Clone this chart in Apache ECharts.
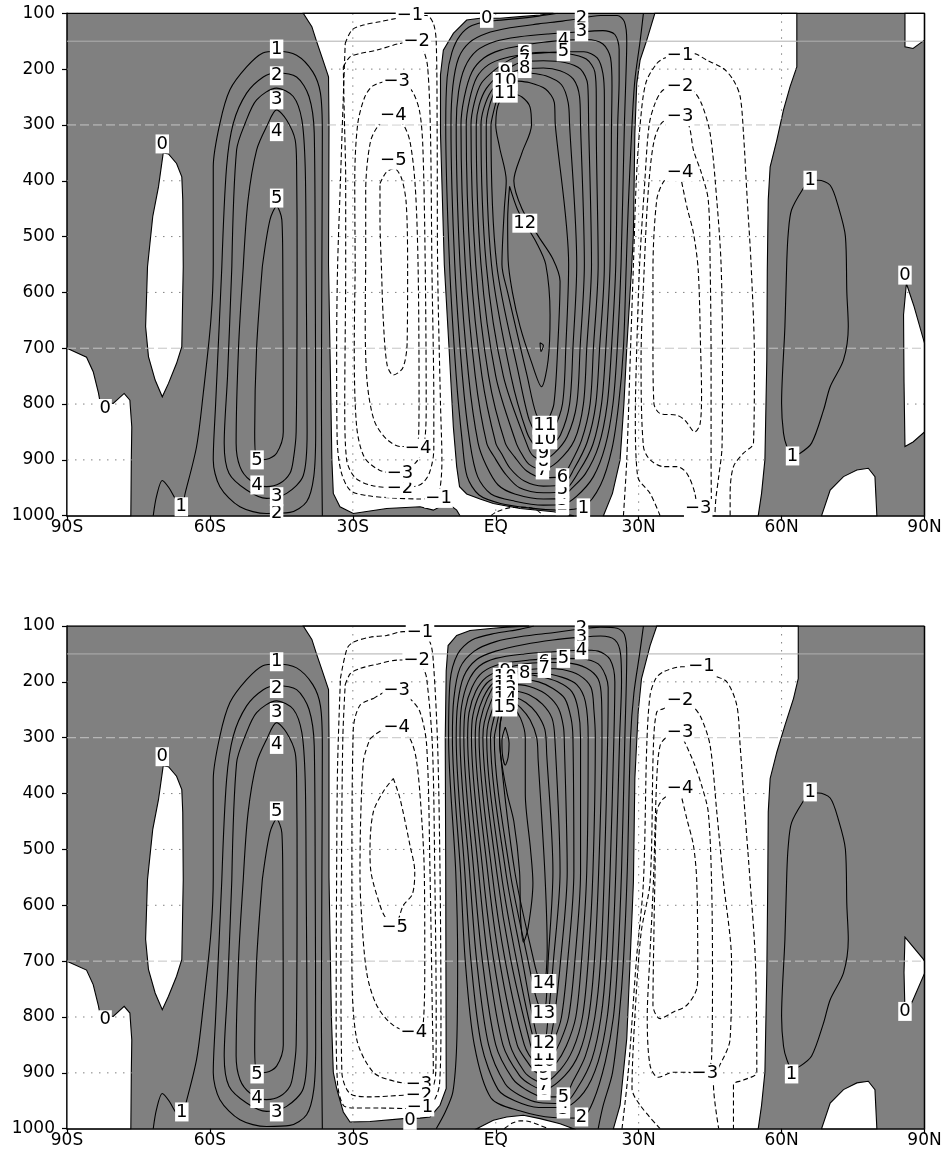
<!DOCTYPE html>
<html>
<head>
<meta charset="utf-8">
<script src="https://cdn.jsdelivr.net/npm/echarts@6/dist/echarts.min.js"></script>
<style>
  html, body { margin: 0; padding: 0; background: #fff; }
  #main { width: 947px; height: 1161px; }
</style>
</head>
<body>
<div id="main"></div>
<script>
// axes
const LAT_TICKS = [-90, -60, -30, 0, 30, 60, 90];
const LAT_NAMES = ['90S', '60S', '30S', 'EQ', '30N', '60N', '90N'];
const DOTTED_LEVELS = [200, 400, 500, 600, 800, 900];
const DASHED_LEVELS = [300, 700];
const SOLID_LEVELS = [150];

// ---------- shapes shared by both panels (they look the same in both) ----------
// white (negative) areas, [lat, hPa]
const shCornerWhite = [[-90,700],[-85.9,716],[-84.5,742],[-83.4,780],[-83.1,794],[-80.3,799],[-78,781],[-76.8,793],[-76.4,841],[-76.5,900],[-76.6,1000],[-90,1000]];
const shIslandWhite = [[-69.8,350],[-68.7,352],[-67,369],[-65.9,393],[-65.7,434],[-65.6,554],[-65.9,697],[-67,727],[-68.7,763],[-70,787],[-71.5,757],[-72.9,715],[-73.5,661],[-73.1,554],[-72,464],[-70.8,411]];
const nhBottomWhite = [[68.4,1000],[70.2,954],[73,930],[75.8,918],[78.2,915],[79.6,930],[80,1000]];

// southern positive cell, contours 1..5
const sh1 = [[-71.9,1000],[-71.2,965],[-70,937],[-68.6,950],[-67.3,969],[-65.9,982],[-65.2,960],[-62.8,876],[-61.4,781],[-59.8,650],[-59.3,550],[-59.3,375],[-57.9,297],[-55.8,237],[-52.3,196],[-48.9,171],[-46,168],[-41.8,175],[-38.4,205],[-36.8,243],[-36.4,315],[-36.5,554],[-36.6,800],[-36.4,1000]];
const sh2 = [[-57.5,554],[-56.5,375],[-55.1,297],[-52.3,243],[-48.8,214],[-46,207],[-41.8,214],[-39.2,249],[-38.1,315],[-37.9,554],[-37.8,850],[-38.2,930],[-39.7,975],[-43.2,994],[-48.1,996],[-53.7,984],[-57.9,948],[-59.3,900],[-58.8,800],[-58,650],[-57.5,554]];
const sh3 = [[-55.4,554],[-54.4,345],[-52.6,297],[-50.2,255],[-46,234],[-42.5,249],[-40.7,291],[-40,375],[-39.8,554],[-39.6,850],[-40.4,928],[-43.9,960],[-48.1,969],[-52.3,954],[-56,924],[-57,870],[-56.3,750],[-55.4,554]];
const sh4 = [[-53,554],[-52,435],[-50.2,345],[-48.1,303],[-46,273],[-43.9,291],[-42.1,327],[-41.8,375],[-41.7,554],[-41.9,850],[-42.5,900],[-43.2,924],[-45.3,942],[-48.1,948],[-51.6,936],[-53.7,912],[-54.5,870],[-54,700],[-53,554]];
const sh5 = [[-49,554],[-47.4,470],[-46,446],[-44.9,470],[-44.7,554],[-44.6,850],[-46,888],[-48.1,899],[-50.1,900],[-50.6,850],[-50.2,700],[-49,554]];
const nhPos1 = [[66,399],[67.7,399],[70.2,408],[71.9,446],[73.4,500],[73.7,600],[74,661],[73,721],[70.2,769],[68.8,811],[66.3,870],[63.9,888],[62.2,893],[61.1,876],[60.4,852],[60,799],[60.7,661],[61.1,542],[61.4,494],[62.1,452],[64.6,413],[66,399]];

// ---------- panel 1 ----------
const p1SubWhite = [[-40.4,100],[12.1,100],[9.3,103],[5.1,106],[0.9,109],[-3.3,109],[-6.1,112],[-8.9,136],[-11,166],[-11.6,210],[-11.6,315],[-10.8,550],[-9.8,700],[-8.9,841],[-8.2,912],[-7.6,948],[-6.1,961],[-3.3,970],[-0.5,978],[5.1,987],[12.1,993],[16.4,1000],[-7.5,1000],[-8.2,990],[-9.6,981],[-11.7,984],[-13.1,990],[-15.9,984],[-22.9,987],[-29.9,996],[-32.7,984],[-34.1,960],[-34.4,900],[-34.8,700],[-35.1,550],[-35,300],[-35.1,214],[-36.5,178],[-37.7,148],[-38.6,124]];
const p1NhWhite = [[33.4,100],[63.2,100],[63.2,196],[61.8,231],[60.4,273],[59,327],[57.6,375],[57.2,434],[57,560],[56.9,721],[56.5,900],[55.8,960],[55.1,1000],[22.6,1000],[24.5,960],[26.1,900],[26.9,800],[27.5,700],[28.2,600],[28.5,560],[28.9,494],[29.2,315],[29.6,226],[30.3,184],[31.7,148]];
const p1TopRightWhite = [[85.9,100],[85.9,160],[87.6,163],[90,148],[90,100]];
const p1PoleWhite = [[86.2,584],[87.8,625],[90,691],[90,850],[87.6,868],[85.9,876],[85.7,760],[85.6,640]];

const p1t1 = [[31,100],[30.3,150],[29.2,220],[28.6,300],[27.8,450],[27.4,550],[26.8,700],[25.8,800],[24.4,880],[22,945],[18.4,984],[13,990],[7,986],[1,978],[-3.5,963],[-6,930],[-7,870],[-8.3,750],[-9.7,550],[-10.5,300],[-10.2,215],[-9.2,170],[-7.5,140],[-5,122],[-1,114],[4,110],[9,105],[13,100]];
const p1t2 = [[18,109],[22,104],[25.5,104],[27,115],[27.5,150],[27.3,220],[27,300],[26.3,550],[25.5,700],[24.6,800],[23,875],[20.5,930],[17,965],[14,980],[10,981],[4,974],[-1,961],[-3.8,930],[-5.4,870],[-7,750],[-8.6,550],[-9.4,300],[-9,230],[-7.8,180],[-5.5,152],[-2,136],[3,126],[9,119],[14,114],[18,109]];
const p1t3 = [[18,133],[22.5,131],[25,138],[25.9,165],[25.9,220],[25.6,300],[25.2,550],[24.3,700],[23.4,800],[21.6,875],[18.8,925],[15.5,955],[14,969],[10,970],[4,961],[0.5,945],[-2,910],[-3.7,870],[-5.7,750],[-7.5,550],[-8.3,300],[-7.8,240],[-6.5,197],[-4,167],[0,150],[5,142],[11,137],[18,133]];
const p1t4 = [[14.2,148],[19,147],[22.5,155],[24.1,180],[24.4,230],[24.3,300],[24,550],[23.1,700],[22.2,800],[20.4,872],[17.5,920],[14,957],[10,959],[5,950],[2,925],[-0.3,895],[-1.9,870],[-4.3,750],[-6.4,550],[-7.3,300],[-6.6,250],[-5,205],[-2.5,180],[1,166],[6,157],[10,152],[14.2,148]];
const p1t5 = [[14.2,169],[18.5,169],[21.3,180],[22.5,208],[22.8,250],[22.8,300],[22.8,550],[21.8,700],[21,800],[19.2,868],[16.5,915],[14,945],[10,947],[6,938],[3,915],[1.3,890],[0,870],[-2.9,750],[-5.3,550],[-6.2,300],[-5.5,255],[-4,215],[-1.5,192],[2,180],[7,173],[14.2,169]];
const p1t6 = [[6.1,172],[10,170],[15,172],[19,182],[20.8,205],[21.1,250],[21.1,300],[21.5,550],[20.5,700],[19.8,800],[18,865],[15.5,910],[14,930],[10,932],[6.5,920],[4,895],[2,870],[-1.5,750],[-4.2,550],[-5.2,300],[-4.5,260],[-3,225],[0,200],[3,183],[6.1,172]];
const p1t7 = [[6.1,186],[10,185],[14.5,188],[17.8,200],[19.3,228],[19.5,300],[20.1,550],[19.1,700],[18.4,800],[16.5,865],[13,903],[9.8,917],[7,908],[5.5,890],[4.3,870],[0,750],[-3.1,550],[-4.1,300],[-3.5,265],[-2,235],[1,208],[4,192],[6.1,186]];
const p1t8 = [[6.1,199],[10,198],[13.5,203],[16.3,218],[17.6,250],[17.8,300],[18.6,550],[17.7,700],[17,800],[15,858],[12.3,888],[10,899],[8,894],[6.8,878],[1.6,750],[-2,550],[-3.1,300],[-2.5,270],[-1,240],[1.5,217],[4,204],[6.1,199]];
const p1t9 = [[2,205],[4,206],[7,207],[10.5,212],[13.8,228],[15.2,260],[15.5,300],[17,550],[16.2,700],[15.5,800],[13.6,855],[11.5,877],[10,885],[8.5,878],[6.5,850],[3.2,750],[-0.9,550],[-2,300],[-1.6,275],[-0.5,245],[1,220],[2,205]];
const p1t10 = [[2,220],[4,221],[7,224],[10.5,236],[12.3,260],[12.5,300],[15.3,550],[14.7,700],[14,800],[12,848],[10.3,862],[8.6,853],[7,828],[4.9,750],[0.2,550],[-1,300],[-0.7,285],[0.2,255],[1.2,232],[2,220]];
const p1t11 = [[2,243],[3.5,244],[5.5,250],[7.2,268],[7.5,300],[5.5,350],[3.8,400],[5.5,450],[9,500],[12,540],[13.5,580],[13,700],[12.2,800],[11,828],[10.3,836],[8.5,818],[6.6,750],[2.5,600],[1.3,550],[1.8,450],[2.2,400],[0.8,340],[0,300],[0.2,275],[0.8,258],[2,243]];
const p1t12 = [[2.9,410],[4.5,450],[6.1,476],[8.5,510],[10.5,550],[11.4,640],[11,721],[9.6,769],[7.5,725],[5.1,661],[3.5,600],[2.6,542],[2.5,470],[2.9,410]];
const p1t13 = [[9.3,690],[10,695],[9.5,706],[9.3,690]];

const p1sn1 = [[-31.6,154],[-30.2,130],[-27.8,121],[-24.3,115],[-20.8,109],[-18,105],[-14.5,104],[-13.1,118],[-12.5,150],[-12.3,315],[-12.2,554],[-11.6,800],[-11.3,900],[-11.8,955],[-13,967],[-16,970],[-22,968],[-27,964],[-30.5,955],[-32.5,920],[-33.3,860],[-33.4,700],[-33.2,554],[-32.6,400],[-32,250],[-31.6,154]];
const p1sn2 = [[-32,196],[-30.6,178],[-28.5,172],[-25,166],[-20.1,154],[-16.6,151],[-15.2,166],[-14.3,196],[-13.7,315],[-13.4,554],[-13,800],[-13,880],[-14,925],[-16,945],[-20.8,950],[-26,946],[-29.5,932],[-31.3,900],[-31.7,800],[-31.5,554],[-31.5,400],[-31.8,280],[-32,196]];
const p1sn3 = [[-29.5,554],[-29.6,400],[-29,300],[-27.5,250],[-25.8,230],[-22.5,222],[-19.5,225],[-17.5,240],[-16,275],[-15.3,340],[-14.8,554],[-14.6,800],[-15,870],[-16.8,905],[-20.8,924],[-24.5,918],[-27.6,895],[-29.2,840],[-29.7,700],[-29.5,554]];
const p1sn4 = [[-27.3,554],[-27.3,420],[-26.3,330],[-24.3,298],[-21.5,287],[-19.5,298],[-18,330],[-16.9,410],[-16.3,554],[-16.1,780],[-16.2,860],[-17.5,876],[-20,876],[-23,862],[-25.5,830],[-27,760],[-27.4,650],[-27.3,554]];
const p1sn5 = [[-24.3,405],[-23,385],[-21.3,378],[-19.8,395],[-18.8,440],[-18.5,554],[-18.6,690],[-19.5,735],[-21.5,748],[-22.8,730],[-23.6,650],[-24,554],[-24.3,470],[-24.3,405]];
const p1eqNeg = [[-1,1000],[0.2,993],[3.7,985],[6.5,985],[8.6,990],[10,1000]];

const p1nn1 = [[26.8,1000],[27.5,900],[28.3,700],[28.9,550],[29.5,400],[30.3,300],[31.5,225],[33.8,190],[35.5,180],[38.7,175],[41.5,172],[44.3,184],[47.8,199],[49.9,220],[51.3,249],[52,315],[52.8,435],[53.6,550],[54.3,721],[54.1,870],[52,888],[49.9,912],[49.2,960],[49.2,1000]];
const p1nn2 = [[34.5,1000],[32.4,960],[29.8,930],[29.3,820],[29.6,700],[30.2,550],[31.3,400],[32.2,300],[33.5,260],[35.2,237],[38.7,231],[41.5,240],[43.2,262],[45,315],[46.4,435],[47.3,550],[47.6,721],[47.5,876],[46.8,930],[46.2,970],[46,1000]];
const p1nn3 = [[42.3,1000],[41.8,960],[40.1,924],[38,912],[35.2,912],[32.4,900],[31,876],[30.5,721],[31.2,550],[32,420],[33.2,330],[35,295],[38.7,285],[40.5,300],[41.5,345],[43.2,387],[44.6,434],[45,550],[45.2,721],[45.2,900],[45.3,1000]];
const p1nn4 = [[38.7,388],[40.1,446],[41.5,494],[42.5,560],[43,700],[43.2,781],[42.9,835],[41.8,850],[39.7,829],[38,820],[34.5,817],[33.2,799],[33,700],[33,560],[33.8,434],[35.2,402],[37,390],[38.7,388]];

const p1Labels = [
  ['0',-70,334],['0',-82,808],['1',-46,164],['2',-46,212],['3',-46,255],['4',-46,312],['5',-46,431],
  ['5',-50.1,900],['4',-50.1,945],['2',-46,996],['3',-46,966],['1',-66,984],
  ['0',-1.9,109],['2',18,109],['3',18,133],['4',14.2,148],['5',14.2,169],['6',6.1,172],['7',6.1,186],['8',6.1,199],
  ['9',2,205],['10',2,222],['11',2,243],['12',6.1,476],
  ['1',18.4,986],['2',14,982],['3',14,972],['4',14,962],['5',14,952],['6',14,932],['7',9.8,918],['8',10,902],['9',10,888],['10',10.3,864],['11',10.3,838],
  ['\u22121',-18,103],['\u22122',-16.6,151],['\u22123',-20.8,222],['\u22124',-21.5,282],['\u22125',-21.5,363],
  ['\u22121',-12,969],['\u22122',-20.1,951],['\u22123',-20.1,924],['\u22124',-16.3,879],
  ['\u22121',38.7,175],['\u22122',38.7,231],['\u22123',38.7,285],['\u22124',38.7,384],['\u22123',42.5,987],
  ['1',66,399],['1',62.3,893],['0',85.9,569]
];

// ---------- panel 2 ----------
const p2SubWhite = [[-40.4,100],[7,100],[2.3,102],[-0.5,104],[-5.4,108],[-8.2,117],[-10,135],[-10.4,180],[-10.6,300],[-10.5,540],[-10.4,928],[-11.7,958],[-13.8,979],[-15.9,981],[-19.4,982],[-26.4,987],[-30.6,988],[-32,970],[-33.4,928],[-34.1,899],[-34.5,800],[-34.8,650],[-35,550],[-35,300],[-35.1,214],[-36.5,178],[-37.7,148],[-38.6,124]];
const p2EqWhite = [[-4,1000],[-0.5,985],[2.3,979],[5.8,976],[9.3,982],[13.5,991],[16.3,1000]];
const p2NhWhite = [[33.8,100],[63.5,100],[63.5,194],[62.5,230],[60.7,278],[59,326],[57.6,373],[57.2,433],[57.1,558],[56.9,720],[56.5,899],[55.8,958],[55.1,1000],[24.7,1000],[26.1,958],[27.5,839],[28.2,700],[28.9,558],[29.2,373],[29.9,254],[30.6,194],[32.4,135]];
const p2PoleWhite = [[85.9,657],[89.7,696],[90,700],[90,722],[87.4,773],[85.9,791],[85.7,720]];

const p2t1 = [[31,100],[30.2,150],[29,220],[28.3,300],[27.6,540],[26.8,700],[25.9,800],[24.5,900],[22.5,960],[21.5,1000]];
const p2t1b = [[-12.5,1000],[-10.6,970],[-9,934],[-8.2,850],[-8,700],[-8.4,540],[-9.9,300],[-9.6,200],[-8,150],[-5,125],[0,113],[5,106],[8,100]];
const p2t2 = [[18,105],[22,102],[25.5,104],[27,115],[27.5,150],[27.1,300],[26.4,540],[25.6,700],[24.7,800],[23,880],[20.5,950],[18,981],[12,980],[5,968],[-1,945],[-4.5,850],[-6.4,700],[-7.4,540],[-9.1,300],[-8.8,230],[-7.5,175],[-4.5,145],[0,128],[6,118],[12,112],[18,105]];
const p2t3 = [[18,120],[22,118],[25,125],[26.2,150],[26.4,200],[26,300],[25.2,540],[24.4,700],[23.4,800],[21.5,880],[18.5,935],[14.2,962],[9,962],[4,950],[0.5,930],[-3,850],[-5.2,700],[-6.5,540],[-8.3,300],[-8,240],[-6.7,190],[-4,160],[0,145],[6,133],[12,125],[18,120]];
const p2t4 = [[18,143],[21.5,145],[24,160],[25,200],[24.8,300],[24,540],[23.2,700],[22.1,800],[20.2,875],[17.3,925],[14.2,955],[9,953],[5,940],[2,920],[-1.5,850],[-4,700],[-5.5,540],[-7.5,300],[-7.2,245],[-5.8,200],[-3.5,172],[0,158],[6,150],[12,146],[18,143]];
const p2t5 = [[14.2,158],[19,160],[22,172],[23.6,210],[23.5,300],[22.8,540],[22,700],[20.8,800],[18.8,870],[16.2,915],[14.2,943],[10,943],[6.3,930],[3.5,910],[0,850],[-2.8,700],[-4.6,540],[-6.7,300],[-6.4,250],[-5,210],[-2.8,183],[1,168],[7,161],[14.2,158]];
const p2t6 = [[10.2,165],[15,166],[19,175],[21.5,195],[22.2,230],[22.3,300],[21.6,540],[20.7,700],[19.5,800],[17.5,865],[14.5,905],[10.1,930],[7.5,922],[5,905],[1.5,850],[-1.6,700],[-3.6,540],[-5.9,300],[-5.6,255],[-4.2,217],[-2,192],[2,176],[6,168],[10.2,165]];
const p2t7 = [[10.2,176],[14,178],[17.5,188],[20,210],[20.6,250],[20.9,300],[20.4,540],[19.4,700],[18.2,800],[16.2,858],[13.5,895],[10.1,918],[8,912],[6,898],[3,850],[-0.4,700],[-2.7,540],[-5.1,300],[-4.8,260],[-3.4,222],[-1.3,198],[3,184],[7,178],[10.2,176]];
const p2t8 = [[6.1,185],[10,185],[14,192],[17,205],[18.8,235],[19.4,300],[19.1,540],[18,700],[16.8,800],[14.8,852],[12.5,885],[10.1,904],[8.3,898],[6.6,880],[4.5,850],[0.8,700],[-1.7,540],[-4.3,300],[-4,265],[-2.6,228],[-0.5,202],[3,190],[6.1,185]];
const p2t9 = [[2,188],[5,186],[9,190],[13,200],[16,218],[17.3,250],[17.8,300],[17.8,540],[16.6,700],[15.3,800],[13.5,845],[11.6,875],[10.1,890],[8.5,885],[6,850],[2,700],[-0.8,540],[-3.5,300],[-3.2,268],[-1.8,230],[0.2,200],[2,188]];
const p2t10 = [[2,196],[5,195],[9,200],[12,212],[14.5,230],[15.8,265],[16.2,300],[16.4,540],[15.1,700],[13.8,800],[12.3,840],[10.1,877],[8.2,868],[7.3,850],[3.2,700],[0.2,540],[-2.7,300],[-2.4,272],[-1,235],[0.8,205],[2,196]];
const p2t11 = [[2,205],[4.5,205],[8,211],[11,225],[13.2,248],[14.2,280],[14.4,310],[15,540],[13.6,700],[12.3,800],[11.2,848],[10.1,866],[8.5,858],[4.4,700],[1.1,540],[-1.9,300],[-1.6,275],[-0.3,240],[1.2,212],[2,205]];
const p2t12 = [[2,215],[4,216],[7,223],[9.8,240],[11.8,265],[12.4,300],[13.5,540],[12.1,700],[11,800],[10.1,848],[8.8,840],[5.6,700],[2.1,540],[-1.1,300],[-0.8,280],[0.3,245],[1.5,222],[2,215]];
const p2t13 = [[2.3,225],[4,227],[6.3,237],[8.5,255],[10.3,285],[10.7,330],[12,540],[11,700],[10.6,770],[10.1,794],[9.3,785],[8.3,760],[6.8,700],[3,540],[-0.3,300],[0,285],[0.9,250],[1.8,230],[2.3,225]];
const p2t14 = [[2.2,237],[3.5,236],[5.3,247],[7.2,268],[8.6,300],[8.9,340],[10.3,540],[10.8,680],[10.1,742],[9,730],[8,700],[4,540],[0.9,320],[0.8,290],[1.4,255],[2.2,237]];
const p2t15 = [[2,242],[3.5,245],[5.2,265],[6.2,300],[6.2,400],[7.3,500],[7.8,560],[6.8,640],[5.8,666],[5.2,620],[5,540],[3.8,450],[2.4,400],[1,330],[0.8,290],[1.2,260],[2,242]];
const p2t16 = [[2,281],[2.8,310],[2.6,335],[2,349],[1.4,330],[1.3,305],[2,281]];

const p2sn1 = [[-32.6,194],[-31.2,140],[-29.9,129],[-26.4,120],[-22.9,117],[-19.4,110],[-15.9,111],[-13.8,129],[-13.1,164],[-12.2,314],[-11.7,540],[-11.5,800],[-11.8,920],[-13.2,952],[-15.9,961],[-18,964],[-24.3,963],[-29.9,963],[-32,958],[-33.2,920],[-33.5,800],[-33.4,540],[-33.2,350],[-32.6,194]];
const p2sn2 = [[-31.6,205],[-30.5,185],[-28.5,176],[-24.7,168],[-20.5,161],[-16.6,161],[-15.2,176],[-14.5,194],[-13.3,314],[-12.8,540],[-12.5,800],[-12.6,900],[-13.6,932],[-16.1,939],[-19.4,940],[-26.4,943],[-30.6,937],[-32.3,899],[-32.5,700],[-32.4,540],[-32.1,300],[-31.6,205]];
const p2sn3 = [[-25.7,230],[-23,217],[-20.8,215],[-18,230],[-15.9,254],[-14.5,314],[-13.8,540],[-13.3,800],[-13.1,899],[-14.5,915],[-16.1,920],[-20.8,916],[-25.7,899],[-29.2,839],[-30.2,700],[-30.2,558],[-29.9,284],[-28.5,242],[-25.7,230]];
const p2sn4 = [[-26.4,302],[-24,287],[-20.8,281],[-18,302],[-16.6,343],[-15.5,450],[-15,540],[-14.9,700],[-15.2,809],[-17.2,827],[-21.5,815],[-25,779],[-27.1,720],[-28.3,600],[-28.5,540],[-27.8,343],[-26.4,302]];
const p2sn5 = [[-21.5,373],[-20.1,409],[-18,493],[-17,540],[-17.5,580],[-19.4,600],[-21.2,636],[-23.2,621],[-24.3,600],[-26.2,540],[-26.4,500],[-25.7,433],[-23.5,395],[-21.5,373]];
const p2eqNeg = [[1.8,1000],[3.5,990],[5.1,986],[7,987],[9,993],[11,1000]];

const p2nn1 = [[26.5,1000],[27.8,900],[29.5,700],[31,558],[31.7,314],[32.4,224],[33.6,194],[35.2,182],[39,173],[43.2,173],[45.7,188],[48.5,200],[50.6,242],[51.3,314],[52.3,433],[53.4,558],[54.5,700],[54.8,899],[52,913],[49.9,921],[49.9,1000]];
const p2nn2 = [[34.5,1000],[30.3,958],[28.6,928],[29.2,800],[30.5,650],[32.4,558],[33.1,314],[33.8,254],[35.2,248],[38.7,233],[41.5,245],[43.2,266],[45,314],[46.4,433],[47.8,558],[49.5,702],[49.2,839],[45.7,921],[46.8,1000]];
const p2nn3 = [[38.7,290],[41.5,343],[43.2,385],[44.6,433],[45.3,558],[45.5,720],[45.3,875],[43.9,901],[39.7,899],[37.3,899],[34.1,908],[32.4,887],[31.8,800],[32.3,700],[33.1,558],[33.8,373],[34.5,314],[35.9,299],[38.7,290]];
const p2nn4 = [[38.7,395],[40.1,445],[41.5,493],[42.2,558],[42.4,720],[42.2,749],[40.1,779],[37.3,791],[34.5,803],[33,779],[33.2,650],[33.4,558],[33.8,433],[35.2,409],[38.7,395]];

const p2Labels = [
  ['0',-70,334],['0',-82,805],['1',-46,164],['2',-46,212],['3',-46,255],['4',-46,312],['5',-46,431],
  ['5',-50.1,902],['4',-50.1,946],['3',-46,970],['1',-65.9,970],
  ['2',18,105],['3',18,120],['4',18,143],['5',14.2,158],['6',10.2,165],['7',10.2,176],['8',6.1,185],
  ['9',2,182],['10',2,192],['11',2,202],['12',2,212],['13',2,222],['14',2,232],['15',1.9,245],
  ['2',18,979],['3',14.2,965],['4',14.2,955],['5',14.2,943],['6',10.1,932],['7',10.1,922],['8',10.1,905],['9',10.1,892],
  ['10',10.1,880],['11',10.1,868],['12',10.1,848],['13',10.1,794],['14',10.1,740],
  ['\u22121',-15.9,111],['\u22122',-16.6,161],['\u22123',-20.8,215],['\u22124',-20.8,281],['\u22125',-21.2,639],
  ['\u22124',-17.2,827],['\u22123',-16.1,920],['\u22122',-16.1,940],['\u22121',-15.9,961],['0',-18,985],
  ['\u22121',43.2,173],['\u22122',38.7,233],['\u22123',38.7,290],['\u22124',38.7,391],['\u22123',43.9,901],
  ['1',66,397],['1',62.1,902],['0',85.9,790]
];

// ---------- chart ----------
const FONT = 'DejaVu Sans';
const GRAY = '#808080';

const panels = [
  {
    white: [shCornerWhite, shIslandWhite, nhBottomWhite, p1SubWhite, p1NhWhite, p1TopRightWhite, p1PoleWhite],
    solid: [sh1, sh2, sh3, sh4, sh5, nhPos1, p1t1, p1t2, p1t3, p1t4, p1t5, p1t6, p1t7, p1t8, p1t9, p1t10, p1t11, p1t12, p1t13],
    dashed: [p1sn1, p1sn2, p1sn3, p1sn4, p1sn5, p1eqNeg, p1nn1, p1nn2, p1nn3, p1nn4],
    labels: p1Labels
  },
  {
    white: [shCornerWhite, shIslandWhite, nhBottomWhite, p2SubWhite, p2EqWhite, p2NhWhite, p2PoleWhite],
    solid: [sh1, sh2, sh3, sh4, sh5, nhPos1, p2t1, p2t1b, p2t2, p2t3, p2t4, p2t5, p2t6, p2t7, p2t8, p2t9, p2t10, p2t11, p2t12, p2t13, p2t14, p2t15, p2t16],
    dashed: [p2sn1, p2sn2, p2sn3, p2sn4, p2sn5, p2eqNeg, p2nn1, p2nn2, p2nn3, p2nn4],
    labels: p2Labels
  }
];

const grids = [
  { left: 67, top: 13.3, width: 857.5, height: 502.4, show: true, backgroundColor: GRAY, borderWidth: 0 },
  { left: 67, top: 626, width: 857.5, height: 502.7, show: true, backgroundColor: GRAY, borderWidth: 0 }
];

const xAxes = grids.map((g, i) => ({
  type: 'value', gridIndex: i, min: -90, max: 90, interval: 30,
  axisLine: { show: true, onZero: false, lineStyle: { color: '#000', width: 1.5 } },
  axisTick: { show: true, length: 5, lineStyle: { color: '#000', width: 1.2 } },
  axisLabel: { margin: 3, color: '#000', fontSize: 17, fontFamily: FONT,
    formatter: v => LAT_NAMES[LAT_TICKS.indexOf(v)] || '' },
  splitLine: { show: false }
}));
const yAxes = grids.map((g, i) => ({
  type: 'value', gridIndex: i, min: 100, max: 1000, interval: 100, inverse: true,
  axisLine: { show: true, onZero: false, lineStyle: { color: '#000', width: 1.5 } },
  axisTick: { show: true, length: 5, lineStyle: { color: '#000', width: 1.2 } },
  axisLabel: { margin: 12, color: '#000', fontSize: 17, fontFamily: FONT, formatter: v => String(v) },
  splitLine: { show: false }
}));

function lineSeries(gi, pts, style, z, smooth) {
  return {
    type: 'line', xAxisIndex: gi, yAxisIndex: gi, data: pts, z: z,
    showSymbol: false, symbol: 'none', smooth: smooth, silent: true,
    lineStyle: style
  };
}

const series = [];
panels.forEach((pn, gi) => {
  // white areas with their zero line
  series.push({
    type: 'custom', xAxisIndex: gi, yAxisIndex: gi, z: 1, silent: true,
    data: pn.white.map((w, i) => [0, 500, i]),
    renderItem: (params, api) => {
      const poly = pn.white[api.value(2)];
      return {
        type: 'polygon',
        shape: { points: poly.map(q => api.coord(q)) },
        style: { fill: '#fff', stroke: '#000', lineWidth: 1.1 }
      };
    }
  });
  // grid lines
  DOTTED_LEVELS.forEach(p => series.push(lineSeries(gi, [[-90, p], [90, p]], { color: GRAY, width: 1, type: [1.5, 6.5] }, 2, false)));
  LAT_TICKS.slice(1, -1).forEach(l => series.push(lineSeries(gi, [[l, 100], [l, 1000]], { color: GRAY, width: 1, type: [1.5, 6.5] }, 2, false)));
  DASHED_LEVELS.forEach(p => series.push(lineSeries(gi, [[-90, p], [90, p]], { color: '#c4c4c4', width: 1, type: [9, 4] }, 2, false)));
  SOLID_LEVELS.forEach(p => series.push(lineSeries(gi, [[-90, p], [90, p]], { color: '#b0b0b0', width: 1 }, 2, false)));
  // contours
  pn.solid.forEach(c => series.push(lineSeries(gi, c, { color: '#000', width: 1.1 }, 3, 0.3)));
  pn.dashed.forEach(c => series.push(lineSeries(gi, c, { color: '#000', width: 1.1, type: [5, 3] }, 3, 0.3)));
  // frame top / right
  series.push(lineSeries(gi, [[-90, 100], [90, 100]], { color: '#000', width: 1.5 }, 4, false));
  series.push(lineSeries(gi, [[90, 100], [90, 1000]], { color: '#000', width: 1.5 }, 4, false));
  // contour labels
  series.push({
    type: 'scatter', xAxisIndex: gi, yAxisIndex: gi, z: 5, silent: true,
    symbol: 'rect', symbolSize: 1, itemStyle: { color: '#fff', opacity: 1 },
    data: pn.labels.map(l => [l[1], l[2], l[0]]),
    label: {
      show: true, position: 'inside', formatter: pr => pr.value[2], opacity: 1,
      color: '#000', fontSize: 18, fontFamily: FONT, backgroundColor: '#fff',
      padding: [1, 1, 0, 1], lineHeight: 18
    },
    emphasis: { disabled: true }
  });
});

const chart = echarts.init(document.getElementById('main'), null, { renderer: 'canvas' });
chart.setOption({
  animation: false,
  backgroundColor: '#fff',
  grid: grids,
  xAxis: xAxes,
  yAxis: yAxes,
  series: series
});
</script>
</body>
</html>
